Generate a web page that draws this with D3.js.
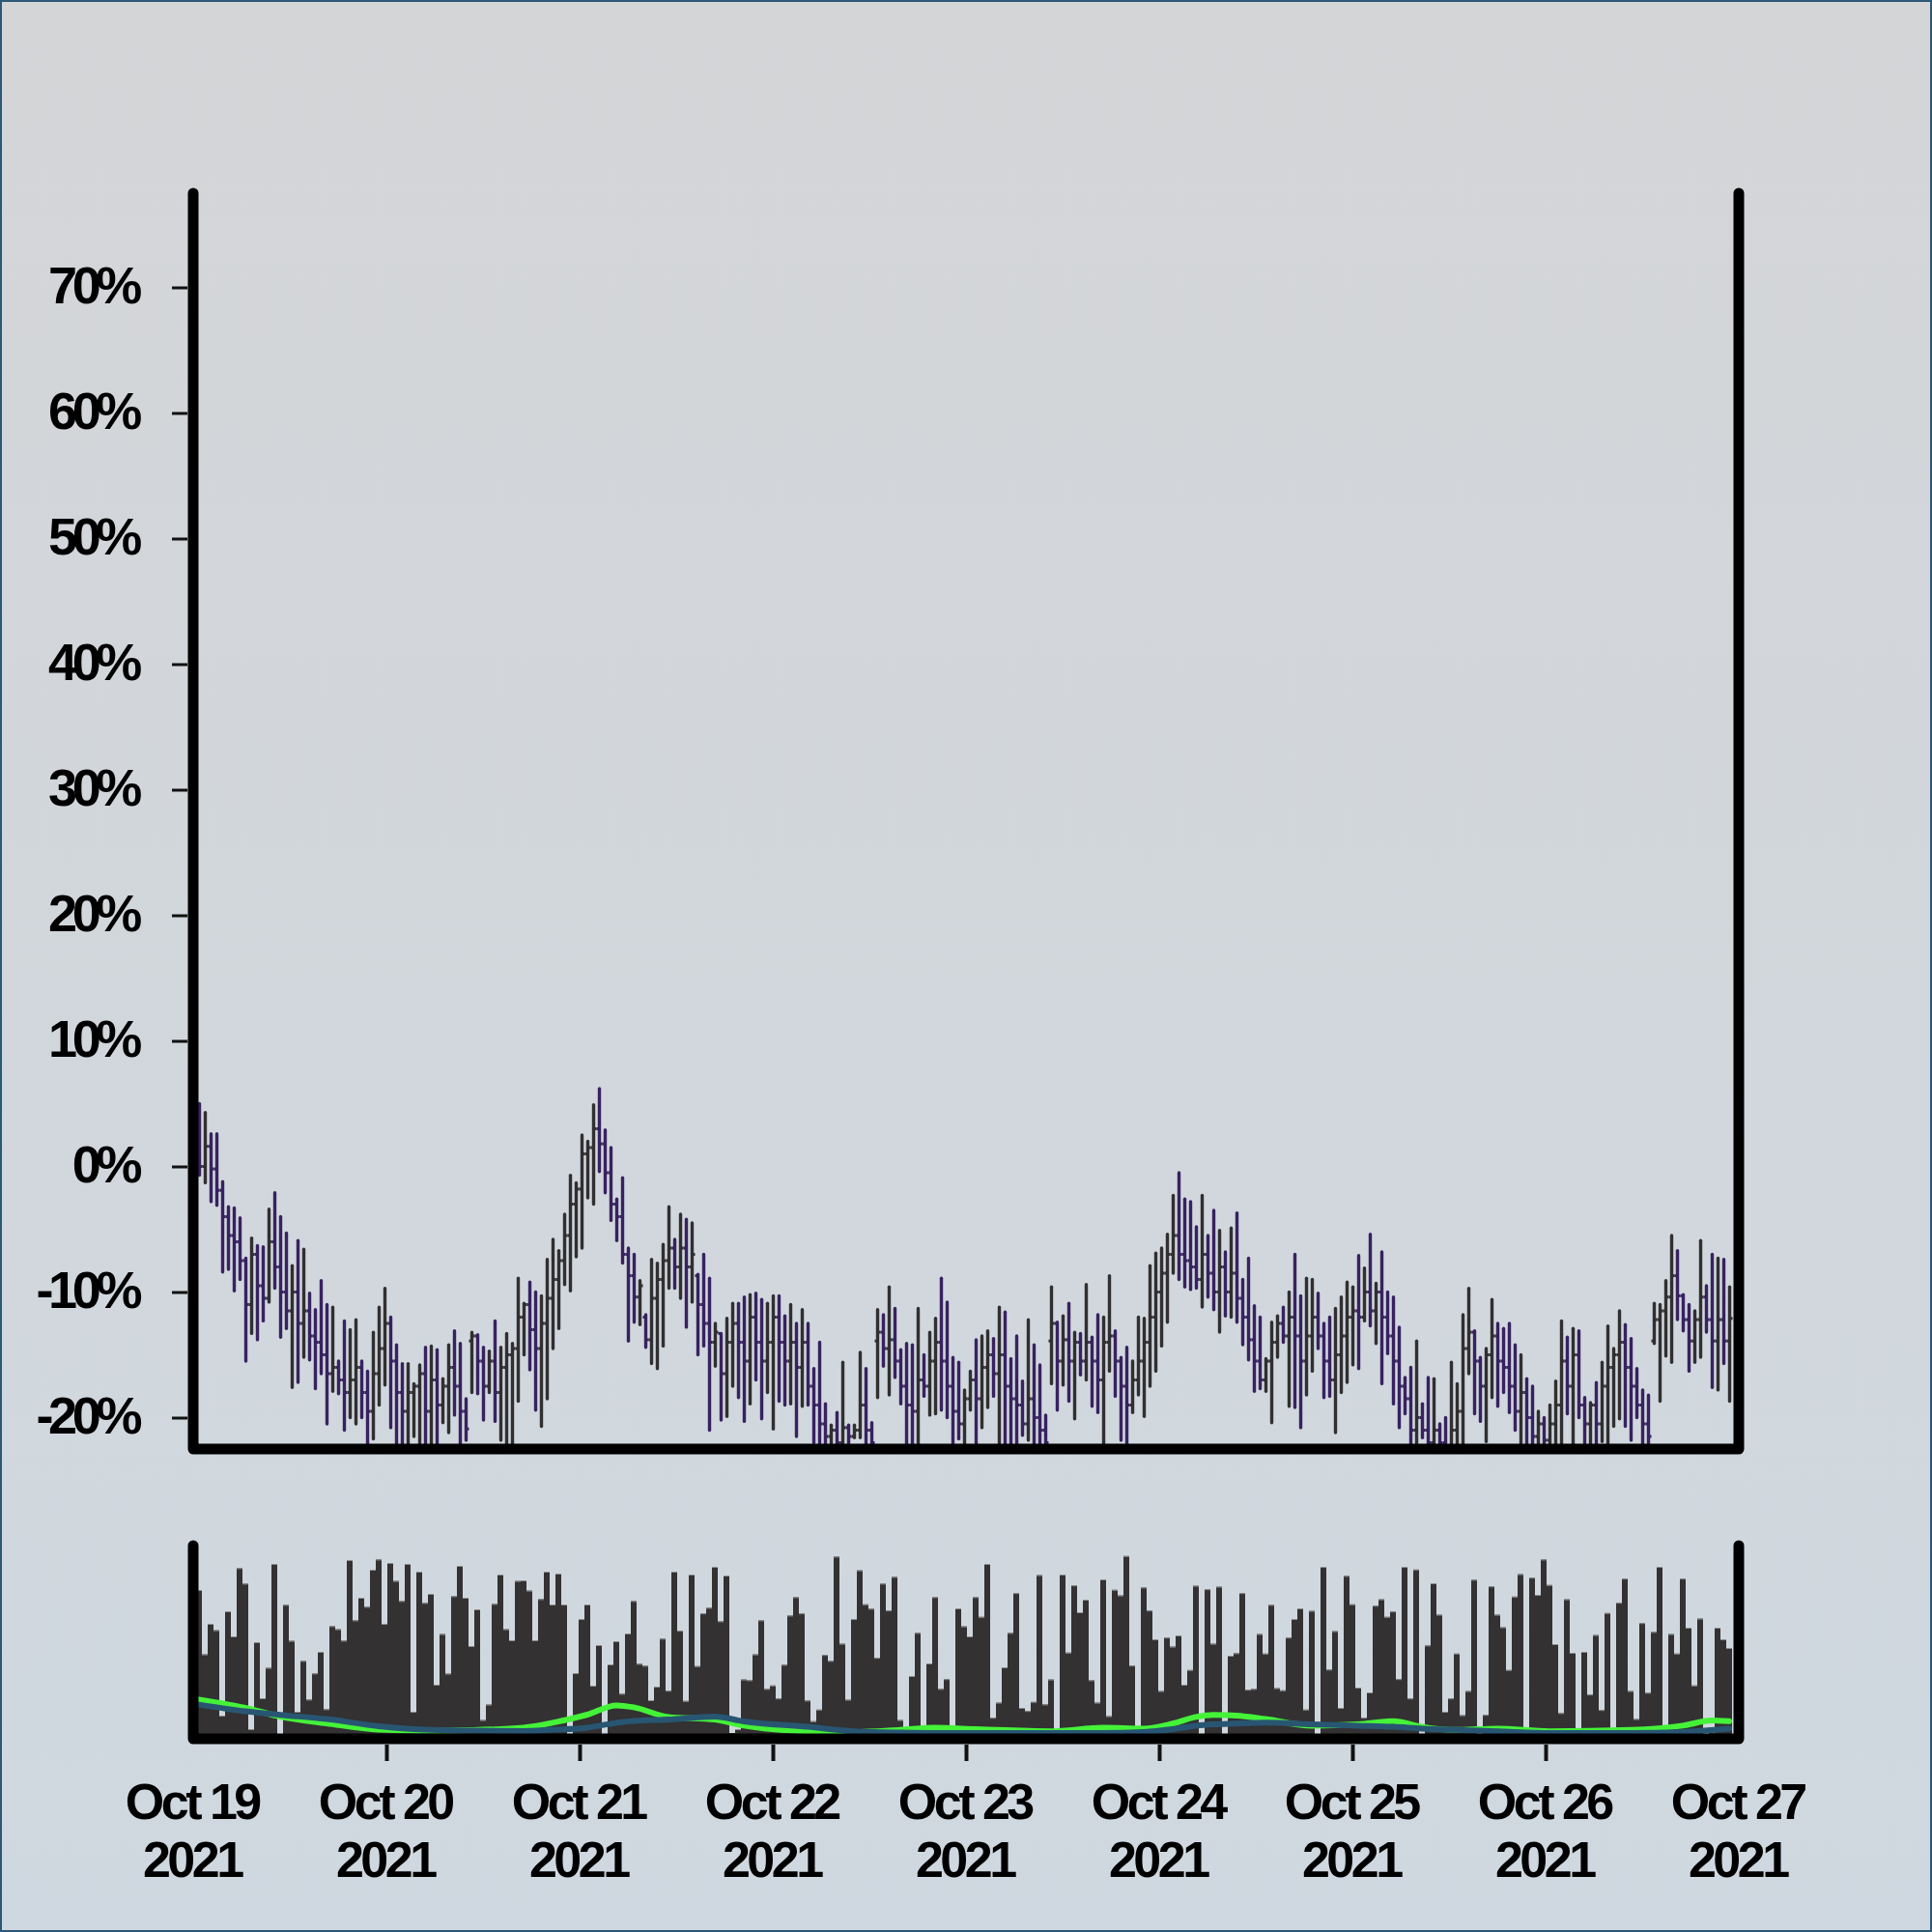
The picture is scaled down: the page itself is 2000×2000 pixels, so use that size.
<!DOCTYPE html>
<html><head><meta charset="utf-8">
<script src="https://cdnjs.cloudflare.com/ajax/libs/d3/7.8.5/d3.min.js"></script>
<style>html,body{margin:0;padding:0;background:#fff}</style>
</head><body>
<svg id="chart" width="2000" height="2000" xmlns="http://www.w3.org/2000/svg"></svg>
<script>
// ---------------- DATA ----------------
const startDate = new Date(2021, 9, 19);
const endDate = new Date(2021, 9, 27);
const barStepMinutes = 43.2;            // spacing of the bars
const yTickValues = [-20, -10, 0, 10, 20, 30, 40, 50, 60, 70];

const opens = [
3.5,0.0,1.6,-0.2,-1.9,-4.0,-5.5,-6.0,-7.5,-11.0,
-7.0,-9.5,-10.5,-6.0,-8.0,-10.0,-11.5,-10.0,-12.5,-11.5,
-13.5,-14.0,-15.0,-16.5,-16.0,-17.0,-18.0,-17.0,-16.0,-18.0,
-19.5,-16.5,-14.5,-12.5,-15.5,-18.0,-19.5,-18.0,-17.5,-16.5,
-19.5,-17.0,-19.0,-17.5,-16.0,-17.5,-19.5,-13.9,-13.5,-15.5,
-17.5,-15.5,-18.0,-16.0,-15.0,-14.5,-12.0,-11.0,-13.0,-14.5,
-12.5,-10.5,-9.0,-7.5,-5.5,-3.0,-1.8,1.0,1.5,3.0,
1.8,-0.5,-3.0,-4.0,-7.0,-8.7,-10.4,-12.0,-13.8,-10.5,
-9.0,-7.5,-6.5,-8.0,-6.5,-8.0,-8.7,-11.0,-12.5,-14.0,
-13.3,-16.5,-14.0,-12.5,-14.0,-15.5,-12.0,-14.0,-15.5,-14.0,
-12.0,-14.0,-15.5,-14.0,-16.0,-14.0,-17.5,-19.0,-20.5,-21.5,
-21.0,-22.0,-20.8,-21.5,-21.0,-19.0,-21.0,-13.9,-13.2,-14.5,
-13.8,-15.5,-17.5,-19.0,-19.5,-17.0,-17.5,-15.5,-14.0,-15.5,
-17.5,-19.5,-20.5,-18.5,-17.0,-18.5,-16.0,-15.0,-16.5,-15.0,
-17.5,-18.5,-19.0,-20.5,-18.5,-20.0,-21.0,-13.9,-12.5,-15.5,
-13.8,-15.5,-14.0,-15.5,-14.0,-15.5,-17.0,-14.0,-13.5,-15.5,
-17.5,-19.0,-17.0,-15.5,-14.0,-12.0,-10.0,-8.5,-7.0,-5.5,
-7.0,-7.5,-8.0,-9.0,-7.0,-8.5,-10.0,-8.0,-10.0,-8.5,
-10.5,-12.0,-13.8,-15.5,-17.0,-15.5,-14.0,-12.5,-13.5,-12.0,
-13.5,-15.5,-13.5,-12.0,-13.5,-15.5,-17.0,-15.0,-13.5,-12.0,
-11.5,-12.0,-10.0,-11.5,-10.0,-12.0,-13.5,-15.5,-17.5,-18.5,
-21.0,-20.0,-21.0,-22.0,-21.0,-22.0,-22.3,-21.0,-19.5,-14.5,
-13.2,-15.5,-17.5,-15.0,-13.5,-15.5,-16.0,-17.5,-19.5,-18.0,
-20.0,-21.5,-20.5,-21.8,-20.5,-19.0,-15.5,-17.5,-15.0,-19.0,
-20.5,-19.0,-20.5,-17.5,-16.0,-15.0,-14.0,-16.0,-17.5,-19.0,
-20.5,-13.9,-12.2,-11.5,-10.4,-8.7,-10.3,-12.2,-13.9,-12.2,
-10.4,-12.2,-13.9,-12.2,-13.9];

const highs = [
5.0,4.3,2.6,2.6,-1.2,-3.2,-3.3,-4.1,-7.3,-5.7,
-6.3,-6.4,-3.4,-2.1,-4.0,-5.3,-7.9,-5.9,-6.6,-10.1,
-11.4,-9.1,-11.0,-11.2,-15.5,-12.3,-13.0,-12.2,-15.5,-16.3,
-13.2,-11.2,-9.7,-12.0,-14.2,-15.7,-15.7,-17.3,-15.8,-14.4,
-14.3,-14.6,-16.9,-14.2,-13.1,-14.1,-18.5,-13.2,-13.4,-14.4,
-14.7,-12.3,-14.4,-13.3,-14.1,-8.9,-10.9,-9.2,-10.0,-10.3,
-7.4,-5.8,-6.7,-3.8,-0.7,-1.3,2.5,2.0,4.9,6.2,
2.9,1.5,-2.6,-0.9,-6.5,-7.0,-9.1,-11.8,-7.4,-7.7,
-6.2,-3.2,-5.8,-3.8,-4.2,-4.5,-8.6,-7.0,-8.9,-12.5,
-13.3,-12.1,-10.9,-10.9,-10.4,-10.2,-10.1,-10.6,-10.9,-10.3,
-10.3,-11.9,-11.0,-12.5,-11.4,-12.5,-16.1,-14.0,-18.9,-20.6,
-19.6,-15.6,-20.6,-20.6,-14.8,-16.1,-20.4,-11.4,-11.8,-9.6,
-11.3,-14.6,-14.1,-14.2,-11.3,-15.0,-13.2,-12.1,-8.9,-10.8,
-15.2,-15.6,-17.8,-16.3,-13.8,-13.5,-13.1,-13.7,-11.2,-11.6,
-15.3,-13.5,-17.1,-12.2,-14.2,-15.8,-19.8,-9.6,-12.4,-11.9,
-10.9,-13.2,-13.3,-9.4,-13.6,-11.8,-12.0,-8.7,-13.1,-15.2,
-14.4,-15.5,-12.0,-12.1,-7.9,-6.9,-6.5,-5.4,-2.3,-0.5,
-2.6,-2.8,-4.8,-2.3,-5.5,-3.5,-5.1,-6.8,-4.9,-3.7,
-9.0,-7.3,-11.1,-12.0,-15.3,-12.4,-11.9,-11.2,-10.0,-7.0,
-10.3,-8.9,-9.0,-10.1,-12.5,-12.0,-11.3,-10.4,-9.2,-9.6,
-7.1,-8.1,-5.4,-9.3,-6.8,-10.0,-10.4,-12.8,-16.8,-16.0,
-13.9,-18.9,-16.8,-16.9,-20.5,-20.0,-15.6,-17.3,-11.8,-9.7,
-13.1,-15.2,-14.5,-10.6,-12.5,-12.9,-12.5,-14.2,-15.0,-16.9,
-17.5,-19.5,-20.0,-19.0,-17.1,-12.3,-13.6,-12.9,-13.1,-18.4,
-18.8,-17.2,-15.6,-12.7,-14.5,-11.5,-12.6,-13.7,-16.1,-17.8,
-18.2,-10.9,-11.0,-9.1,-5.5,-6.7,-10.2,-11.0,-11.5,-5.9,
-9.5,-7.0,-7.3,-7.4,-9.6];

const lows = [
-0.7,-1.3,-2.8,-3.1,-8.4,-8.2,-9.9,-9.0,-15.5,-13.3,
-13.8,-12.3,-10.8,-9.7,-13.6,-12.9,-17.6,-17.2,-15.2,-15.4,
-17.7,-16.5,-20.5,-17.9,-18.1,-21.0,-20.0,-20.5,-20.0,-23.5,
-21.7,-19.0,-17.4,-20.8,-24.0,-24.0,-23.5,-21.5,-24.0,-24.0,
-23.5,-23.0,-20.4,-21.2,-19.8,-24.0,-21.8,-18.0,-18.1,-20.2,
-18.0,-20.3,-21.8,-23.0,-23.0,-18.7,-15.0,-16.2,-19.4,-20.7,
-18.5,-14.5,-12.9,-9.4,-9.9,-7.2,-6.5,-2.5,-3.0,-0.4,
-2.1,-4.3,-5.9,-7.7,-13.9,-12.4,-12.6,-14.4,-15.7,-16.1,
-14.3,-9.7,-9.7,-10.5,-12.8,-10.8,-15.0,-14.3,-21.0,-15.9,
-20.2,-19.9,-17.5,-18.4,-20.3,-18.9,-17.0,-20.1,-18.0,-20.9,
-18.7,-19.0,-18.9,-21.5,-19.1,-19.0,-22.0,-23.5,-23.5,-23.5,
-23.5,-24.0,-23.5,-21.6,-21.6,-23.5,-23.5,-18.4,-15.9,-18.2,
-16.8,-18.9,-24.0,-24.0,-24.0,-18.3,-19.8,-19.7,-19.4,-20.0,
-24.0,-21.7,-24.0,-19.4,-24.0,-20.8,-19.2,-18.3,-24.0,-24.0,
-24.0,-24.0,-21.4,-21.8,-24.0,-24.0,-24.0,-17.3,-19.4,-17.4,
-18.7,-20.1,-16.6,-17.0,-19.1,-19.6,-24.0,-16.3,-18.3,-21.8,
-24.0,-19.6,-18.2,-19.9,-17.5,-16.3,-14.3,-12.4,-8.5,-9.0,
-9.6,-9.8,-9.7,-11.2,-10.4,-11.4,-13.2,-11.9,-12.0,-12.4,
-14.2,-15.4,-17.9,-17.7,-17.9,-20.4,-15.2,-14.0,-19.1,-19.2,
-20.8,-18.2,-16.3,-14.5,-18.4,-18.3,-21.2,-18.0,-17.2,-15.8,
-16.1,-12.3,-12.7,-14.1,-17.3,-14.9,-18.9,-20.8,-19.7,-24.0,
-24.0,-21.6,-24.0,-24.0,-24.0,-24.0,-24.0,-24.0,-24.0,-16.5,
-19.7,-20.3,-21.9,-18.4,-19.1,-18.0,-19.6,-21.0,-24.0,-24.0,
-24.0,-24.0,-24.0,-24.0,-24.0,-24.0,-19.7,-24.0,-20.0,-24.0,
-24.0,-24.0,-21.9,-24.0,-20.7,-20.1,-20.7,-21.8,-20.0,-24.0,
-24.0,-14.1,-18.7,-15.1,-15.6,-12.2,-13.1,-16.3,-15.6,-15.2,
-13.2,-17.6,-17.8,-15.7,-18.7];

const closes = [
0.0,1.6,-0.2,-1.9,-4.0,-5.5,-6.0,-7.5,-11.0,-7.0,
-9.5,-10.5,-6.0,-8.0,-10.0,-11.5,-10.0,-12.5,-11.5,-13.5,
-14.0,-15.0,-16.5,-16.0,-17.0,-18.0,-17.0,-16.0,-18.0,-19.5,
-16.5,-14.5,-12.5,-15.5,-18.0,-19.5,-18.0,-17.5,-16.5,-19.5,
-17.0,-19.0,-17.5,-16.0,-17.5,-19.5,-20.9,-13.5,-15.5,-17.5,
-15.5,-18.0,-16.0,-15.0,-14.5,-12.0,-11.0,-13.0,-14.5,-12.5,
-10.5,-9.0,-7.5,-5.5,-3.0,-1.8,1.0,1.5,3.0,1.8,
-0.5,-3.0,-4.0,-7.0,-8.7,-10.4,-9.5,-13.8,-10.5,-9.0,
-7.5,-6.5,-8.0,-6.5,-8.0,-7.0,-11.0,-12.5,-14.0,-13.2,
-16.5,-14.0,-12.5,-14.0,-15.5,-12.0,-14.0,-15.5,-14.0,-12.0,
-14.0,-15.5,-14.0,-16.0,-14.0,-17.5,-19.0,-20.5,-21.5,-21.0,
-22.0,-20.8,-21.5,-21.0,-19.0,-21.0,-22.0,-13.2,-14.5,-13.8,
-15.5,-17.5,-19.0,-19.5,-17.0,-17.5,-15.5,-14.0,-15.5,-17.5,
-19.5,-20.5,-18.5,-17.0,-18.5,-16.0,-15.0,-16.5,-15.0,-17.5,
-18.5,-19.0,-20.5,-18.5,-20.0,-21.0,-22.0,-12.5,-15.5,-13.8,
-15.5,-14.0,-15.5,-14.0,-15.5,-17.0,-14.0,-13.5,-15.5,-17.5,
-19.0,-17.0,-15.5,-14.0,-12.0,-10.0,-8.5,-7.0,-5.5,-7.0,
-7.5,-8.0,-9.0,-7.0,-8.5,-10.0,-8.0,-10.0,-8.5,-10.5,
-12.0,-13.8,-15.5,-17.0,-15.5,-14.0,-12.5,-13.5,-12.0,-13.5,
-15.5,-13.5,-12.0,-13.5,-15.5,-17.0,-15.0,-13.5,-12.0,-11.5,
-12.0,-10.0,-11.5,-10.0,-12.0,-13.5,-15.5,-17.5,-18.5,-21.0,
-20.0,-21.0,-22.0,-21.0,-22.0,-22.3,-21.0,-19.5,-14.5,-13.2,
-15.5,-17.5,-15.0,-13.5,-15.5,-16.0,-17.5,-19.5,-18.0,-20.0,
-21.5,-20.5,-21.8,-20.5,-19.0,-15.5,-17.5,-15.0,-19.0,-20.5,
-19.0,-20.5,-17.5,-16.0,-15.0,-14.0,-16.0,-17.5,-19.0,-20.5,
-21.5,-12.2,-11.5,-10.4,-8.7,-10.3,-12.2,-13.9,-12.2,-10.4,
-12.2,-13.9,-12.2,-13.9,-12.1];

const volumes = [
77,43.7,59.5,56.2,12,66,53,88.3,80.3,5,
50,21,36.7,90.5,1,69.3,50.7,14,40.3,20.3,
33.8,45,15.3,58.3,56.7,50.8,92.5,61.3,73,68.3,
87.5,92.8,59.5,91,81.7,71.3,90.5,14,86.5,70.3,
75,28,54.2,33.7,73.8,89.5,73,48,67,9.7,
17.7,69.8,85,56.7,51,81.7,82,76.7,51,72.3,
86.5,69.5,85.5,69.5,1,34,62,69.5,27.5,48.5,
1,38.5,50.5,23.3,54.5,71.3,38.8,37.8,20,27,
51.8,24.9,86.5,55.9,19.6,85,37.6,64.9,67.8,89,
60.8,84.5,3,5,30.7,30.3,43.7,61.3,25.8,27.6,
20.9,38.3,63.8,73.3,64.9,19.8,9.1,15.1,43.4,40.3,
94.3,49.2,20.2,62,87.2,69.6,67.3,41.9,80.3,66.4,
83.8,9.7,1,32.5,54.8,1,39,73.3,25.8,30.9,
1,67.5,58.2,53,73.3,63.1,90.5,10.9,18.7,37,
54.8,75.4,16,14.4,19.1,84.7,17.8,30.7,1,85,
44.6,79.4,65.5,72,30.3,18.7,82.5,11.7,77.1,74.2,
94.6,37.9,1,78.3,66.4,51.5,24.7,52.4,47.7,53.5,
28,35.6,79.2,1,77.4,49.2,78.7,1,43,44.3,
75.4,25.4,25.8,54.2,44.1,69.3,26.2,25.1,52.4,62,
67.5,15.1,66.2,1,89,35.8,55.7,16,84.3,69.6,
26.5,10.9,24,68.9,72.2,63.1,65.9,30.9,89,20.9,
87.6,1,48.3,80.5,64.2,14,20.9,44.1,12.2,24.7,
82.3,1,12.4,78.9,64.2,57.7,35.6,73.6,85.2,1,
83.4,74.5,92.8,79.6,49,13.3,72.2,44.5,1,45,
22.9,53.7,14.9,65.1,1,70.4,82.9,24.7,10.2,59.9,
23.8,55.3,89,1,54.2,44.1,82.9,57.5,27.6,62.2,
1,3,57.5,51.5,47];

// smooth indicator lines in the lower panel (sampled at bar numbers)
const lineBarNumbers = [1,9,15,23,32,40,48,57,62,68,73,76,82,90,95,106,114,122,128,135,148,157,164,169,173,176,180,185,193,201,207,212,218,225,234,248,257,262,265];
const greenLine = [20.3,16,11.5,8,4.7,4.2,4.5,5.8,8.3,12.5,17.3,16.3,11.3,10,6.8,3.9,3.5,4.6,5.7,5,3.9,5.7,5.3,7.9,11.3,12.4,12,10.2,6.8,7.5,9.1,6.2,4.6,5.3,3.9,4.6,6.8,9.5,9.1];
const tealLine  = [17.7,14.2,12.4,10.2,6.5,4.7,4.2,4,4.7,5.8,8.3,9.2,10,11.5,9,6.2,3.9,3.2,3,3,3,3,3.5,5,6.8,7.5,7.9,8.4,7.5,6.8,6.2,5.3,4.6,3.9,3,3,3.5,4.5,5.3];

// ---------------- CHART ----------------
const W = 2000, H = 2000;
const L = 200, R = 1800, mainTop = 200, mainBottom = 1500, volTop = 1600, volBottom = 1800;
const stepMs = barStepMinutes * 60000;
const barDate = n => new Date(+startDate + n * stepMs);   // bar number n (1-based)

const svg = d3.select('#chart');
const defs = svg.append('defs');
const grad = defs.append('linearGradient').attr('id', 'bg').attr('x1', 0).attr('y1', 0).attr('x2', 0).attr('y2', 1);
grad.append('stop').attr('offset', '0%').attr('stop-color', '#d4d5d7');
grad.append('stop').attr('offset', '100%').attr('stop-color', '#cfd8e0');
defs.append('clipPath').attr('id', 'clipMain').append('rect')
  .attr('x', L).attr('y', 100).attr('width', R - L).attr('height', mainBottom - 100);
defs.append('clipPath').attr('id', 'clipVol').append('rect')
  .attr('x', L).attr('y', volTop - 20).attr('width', R - L).attr('height', volBottom - volTop + 20);

svg.append('rect').attr('width', W).attr('height', H).attr('fill', 'url(#bg)');
svg.append('rect').attr('x', 1).attr('y', 1).attr('width', W - 2).attr('height', H - 2)
  .attr('fill', 'none').attr('stroke', '#2b5876').attr('stroke-width', 2);

const x = d3.scaleTime().domain([startDate, endDate]).range([L, R]);
const y = d3.scaleLinear().domain([-22.5, 77.5]).range([mainBottom, mainTop]);
const yv = d3.scaleLinear().domain([0, 100]).range([volBottom, volTop]);

const bars = opens.map((o, i) => ({
  date: barDate(i + 1), open: o, high: highs[i], low: lows[i], close: closes[i], volume: volumes[i]
}));

const upColor = '#312f30', downColor = '#382260';
const px = d => Math.round(x(d.date)) + 0.5;   // pixel-aligned bar centre

// OHLC
const gMain = svg.append('g').attr('clip-path', 'url(#clipMain)');
const ohlc = gMain.selectAll('g.bar').data(bars).join('g').attr('class', 'bar')
  .attr('stroke', d => d.close >= d.open ? upColor : downColor)
  .attr('stroke-width', 3.4);
ohlc.append('line')
  .attr('x1', px).attr('x2', px)
  .attr('y1', d => y(d.high)).attr('y2', d => y(d.low))
  .attr('stroke-linecap', 'round');
ohlc.append('line')
  .attr('x1', d => px(d) - 3).attr('x2', px)
  .attr('y1', d => y(d.open)).attr('y2', d => y(d.open)).attr('stroke-width', 3);
ohlc.append('line')
  .attr('x1', px).attr('x2', d => px(d) + 3)
  .attr('y1', d => y(d.close)).attr('y2', d => y(d.close)).attr('stroke-width', 3);

// Volume
const gVol = svg.append('g').attr('clip-path', 'url(#clipVol)');
gVol.selectAll('rect.vol').data(bars).join('rect').attr('class', 'vol')
  .attr('x', d => Math.round(x(d.date)) - 3).attr('width', 6)
  .attr('y', d => yv(d.volume)).attr('height', d => yv(0) - yv(d.volume))
  .attr('fill', '#333132');
gVol.selectAll('line.voltop').data(bars.filter(d => d.volume > 3)).join('line').attr('class', 'voltop')
  .attr('x1', d => Math.round(x(d.date)) - 3).attr('x2', d => Math.round(x(d.date)) + 3)
  .attr('y1', d => yv(d.volume) + 0.5).attr('y2', d => yv(d.volume) + 0.5)
  .attr('stroke', '#8a8a8a').attr('stroke-width', 1);

const lineGen = d3.line().x(d => x(barDate(d[0]))).y(d => yv(d[1])).curve(d3.curveMonotoneX);
gVol.append('path').datum(lineBarNumbers.map((n, i) => [n, greenLine[i]]))
  .attr('d', lineGen).attr('fill', 'none').attr('stroke', '#44f238').attr('stroke-width', 6)
  .attr('stroke-linecap', 'round').attr('stroke-linejoin', 'round');
gVol.append('path').datum(lineBarNumbers.map((n, i) => [n, tealLine[i]]))
  .attr('d', lineGen).attr('fill', 'none').attr('stroke', '#285672').attr('stroke-width', 6)
  .attr('stroke-linecap', 'round').attr('stroke-linejoin', 'round');

// Y axis
const fontFam = '"Liberation Sans", Arial, Helvetica, sans-serif';
const yAxis = svg.append('g').attr('transform', `translate(${L - 6},0)`)
  .call(d3.axisLeft(y).tickValues(yTickValues).tickSize(16).tickFormat(d => `${d}%`));
yAxis.select('.domain').remove();
yAxis.selectAll('.tick line').attr('stroke', '#111').attr('stroke-width', 3);
yAxis.selectAll('.tick text')
  .attr('x', -(L - 6 - 142)).attr('dy', null).attr('y', 16)
  .attr('fill', '#000').attr('font-family', fontFam).attr('font-weight', 'bold')
  .attr('font-size', 54).attr('letter-spacing', '-5.4px').attr('text-anchor', 'end');

// X axis
const fmtMD = d3.timeFormat('%b %-d'), fmtY = d3.timeFormat('%Y');
const xAxis = svg.append('g').attr('transform', `translate(0,${volBottom + 6})`)
  .call(d3.axisBottom(x).ticks(d3.timeDay.every(1)).tickSize(17).tickFormat(''));
xAxis.select('.domain').remove();
xAxis.selectAll('.tick line').attr('stroke', '#111').attr('stroke-width', 4)
  .attr('display', d => (+d === +startDate || +d === +endDate) ? 'none' : null);
xAxis.selectAll('.tick text').remove();
const xt = xAxis.selectAll('.tick').append('text')
  .attr('fill', '#000').attr('font-family', fontFam).attr('font-weight', 'bold')
  .attr('font-size', 52).attr('letter-spacing', '-3.5px').attr('text-anchor', 'middle');
xt.append('tspan').attr('x', -1.75).attr('y', 77).text(d => fmtMD(d));
xt.append('tspan').attr('x', -1.75).attr('y', 137).text(d => fmtY(d));

// Frames
svg.append('path')
  .attr('d', `M${L},${mainTop}V${mainBottom}H${R}V${mainTop}`)
  .attr('fill', 'none').attr('stroke', '#000').attr('stroke-width', 11)
  .attr('stroke-linecap', 'round').attr('stroke-linejoin', 'round');
svg.append('path')
  .attr('d', `M${L},${volTop}V${volBottom}H${R}V${volTop}`)
  .attr('fill', 'none').attr('stroke', '#000').attr('stroke-width', 11)
  .attr('stroke-linecap', 'round').attr('stroke-linejoin', 'round');
</script>
</body></html>
